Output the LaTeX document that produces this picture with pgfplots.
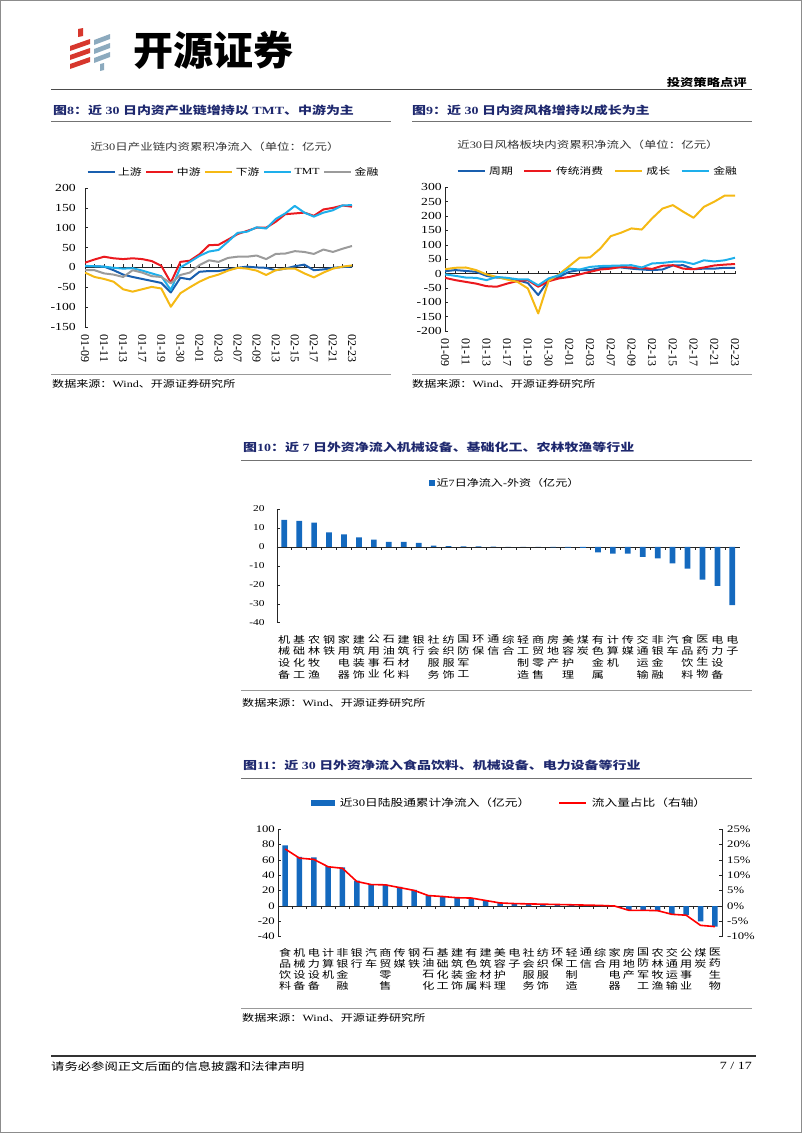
\documentclass[border=0pt]{standalone}
\usepackage{fontspec}
\usepackage{pgfplots}
\usepackage{pgfplotstable}
\pgfplotsset{compat=1.18}
\setmainfont[FakeStretch=1.27]{Liberation Serif}
\newfontfamily\latinplain{Liberation Serif}
\newfontfamily\cjkA[FakeStretch=1.27]{Noto Sans CJK SC}
\newfontfamily\cjkN{Noto Sans CJK SC}
\let\cjkcur\cjkA
\def\latincur{\rmfamily}
\newXeTeXintercharclass\CJKcls
\makeatletter
\count@="2E80
\loop\XeTeXcharclass\count@=\CJKcls\advance\count@\@ne\ifnum\count@<"A000 \repeat
\count@="FF00
\loop\XeTeXcharclass\count@=\CJKcls\advance\count@\@ne\ifnum\count@<"FFF0 \repeat
\makeatother
\XeTeXinterchartoks 0 \CJKcls={\cjkcur}
\XeTeXinterchartoks 4095 \CJKcls={\cjkcur}
\XeTeXinterchartoks \CJKcls 0={\latincur}
\XeTeXinterchartoks \CJKcls 4095={\latincur}
\XeTeXinterchartokenstate=1

\definecolor{cUp}{RGB}{25,95,175}
\definecolor{cMid}{RGB}{235,25,30}
\definecolor{cDown}{RGB}{245,185,20}
\definecolor{cTMT}{RGB}{30,175,235}
\definecolor{cFin}{RGB}{155,155,155}
\definecolor{barblue}{RGB}{20,105,190}
\definecolor{titleblue}{RGB}{30,40,110}
\definecolor{logored}{RGB}{215,55,45}
\definecolor{logoblue}{RGB}{140,170,190}

\pgfplotstableread{
i up mid down tmt fin
0 3 12 -13 4 -7
1 3 20 -24 3 -7
2 2 27 -29 2 -15
3 -7 23 -36 -1 -18
4 -18 21 -55 -3 -24
5 -24 23 -61 -2 -7
6 -29 21 -55 -8 -13
7 -34 16 -49 -15 -22
8 -39 4 -53 -22 -24
9 -63 -38 -99 -57 -40
10 -26 14 -65 0 -19
11 -30 17 -50 14 -13
12 -11 33 -36 29 6
13 -9 56 -25 40 18
14 -9 57 -18 44 14
15 -5 70 -8 65 24
16 -1 84 -1 87 27
17 2 92 -3 90 27
18 0 100 -8 101 30
19 -1 100 -19 98 21
20 -7 115 -7 122 34
21 -3 134 -3 136 35
22 3 136 -3 155 41
23 7 138 -15 138 39
24 -7 130 -25 128 34
25 -5 146 -13 138 45
26 -1 150 -3 144 39
27 1 156 2 156 47
28 2 153 5 157 54
}\dataA

\pgfplotstableread{
i cyc cons grow fin
0 8 -15 15 -3
1 12 -23 20 -8
2 9 -29 21 -14
3 6 -35 12 -15
4 -8 -44 -3 -23
5 -14 -46 -12 -12
6 -17 -35 -21 -15
7 -23 -26 -29 -20
8 -33 -23 -52 -20
9 -75 -46 -139 -41
10 -23 -27 -26 -17
11 -12 -17 -3 -6
12 6 -12 26 17
13 12 -3 55 14
14 12 6 56 23
15 19 14 87 26
16 21 17 130 27
17 21 23 142 28
18 17 21 157 29
19 14 20 153 21
20 12 16 192 35
21 14 27 226 37
22 28 29 238 41
23 29 17 215 41
24 15 15 194 33
25 17 21 232 46
26 17 28 250 42
27 20 31 271 46
28 20 33 271 55
}\dataB

\pgfplotstableread{
i v
0 14.3
1 13.7
2 12.8
3 7.7
4 6.6
5 5.0
6 3.9
7 2.7
8 2.7
9 2.1
10 0.7
11 0.4
12 0.3
13 0.3
14 0.2
15 0
16 0
17 0
18 -0.3
19 -0.4
20 -0.5
21 -2.9
22 -3.5
23 -3.6
24 -5.2
25 -6.1
26 -8.7
27 -11.4
28 -17.2
29 -20.5
30 -30.7
}\dataC

\pgfplotstableread{
i v r
0 79 18.6
1 64 15.6
2 63.5 15.2
3 52 12.8
4 50.5 12.3
5 33 8.0
6 27.6 7.0
7 27.6 6.9
8 25 6.0
9 21 5.1
10 14 3.4
11 13 3.1
12 11 2.7
13 10 2.6
14 7.5 1.8
15 4.5 1.0
16 3.5 0.8
17 3 0.7
18 2.5 0.6
19 2 0.5
20 1.5 0.4
21 1 0.3
22 0.5 0.2
23 -0.5 0.0
24 -5.5 -1.4
25 -6 -1.4
26 -6.5 -1.5
27 -10.5 -2.7
28 -12 -3.0
29 -20 -6.3
30 -27 -6.7
}\dataD

\pgfplotsset{
  myaxis/.style={
    scale only axis, anchor=south west,
    /pgf/number format/assume math mode=true,
    axis line style={black!85,line width=0.6pt},
    tick style={black!85,line width=0.5pt},
    major tick length=3pt, minor tick length=3pt,
    tick align=inside,
    axis y line*=left, axis x line*=middle,
    hide obscured x ticks=false,
    yticklabel style={inner sep=0pt,anchor=east},
    legend cell align=left,
  },
}

\begin{document}
\begin{tikzpicture}
\path[use as bounding box] (0pt,0pt) rectangle (802pt,-1133pt);
\begin{scope}[x=1pt,y=-1pt]
  \draw[black!45,line width=1.2pt] (0.6,0.6) rectangle (801.4,1132.4);
  % logo
  \fill[logored] (78,29) -- (83,28) -- (83,36) -- (78,37) -- cycle;
  \fill[logored] (70,46) -- (90,39) -- (90,44) -- (70,51) -- cycle;
  \fill[logored] (70,55) -- (90,48) -- (90,53) -- (70,60) -- cycle;
  \fill[logored] (70,64) -- (90,57) -- (90,62) -- (70,69) -- cycle;
  \fill[logoblue] (94,40) -- (110,34) -- (110,39) -- (94,45) -- cycle;
  \fill[logoblue] (94,49) -- (110,43) -- (110,48) -- (94,54) -- cycle;
  \fill[logoblue] (94,58) -- (110,52) -- (110,57) -- (94,63) -- cycle;
  \fill[logoblue] (100,64) -- (104,63) -- (104,70) -- (100,71) -- cycle;
  \node[anchor=west,inner sep=0pt,font=\let\cjkcur\cjkN\fontsize{40}{40}\selectfont\bfseries] at (133,50) {开源证券};
  \node[anchor=east,inner sep=0pt,font=\fontsize{10.5}{12}\selectfont\bfseries] at (747,82) {投资策略点评};
  \draw[black!70,line width=1.6pt] (51,89.5) -- (752,89.5);
  % titles 8 and 9
  \node[anchor=west,inner sep=0pt,text=titleblue,font=\fontsize{11}{12}\selectfont\bfseries] at (53,110) {图8：近 30 日内资产业链增持以 TMT、中游为主};
  \node[anchor=west,inner sep=0pt,text=titleblue,font=\fontsize{11}{12}\selectfont\bfseries] at (412,110) {图9：近 30 日内资风格增持以成长为主};
  \draw[black!55,line width=0.8pt] (51,121) -- (391,121);
  \draw[black!55,line width=0.8pt] (412,121) -- (752,121);
  \node[inner sep=0pt,text=black!80,font=\fontsize{9.8}{11}\selectfont] at (215,147) {近30日产业链内资累积净流入（单位：亿元）};
  \node[inner sep=0pt,text=black!80,font=\fontsize{9.8}{11}\selectfont] at (588,145) {近30日风格板块内资累积净流入（单位：亿元）};
  \draw[black!40,line width=0.6pt] (51,374) -- (391,374);
  \draw[black!40,line width=0.6pt] (412,374) -- (752,374);
  \node[anchor=west,inner sep=0pt,font=\fontsize{9.5}{11}\selectfont] at (52,384) {数据来源：Wind、开源证券研究所};
  \node[anchor=west,inner sep=0pt,font=\fontsize{9.5}{11}\selectfont] at (412,384) {数据来源：Wind、开源证券研究所};
  % chart 10 frame
  \node[anchor=west,inner sep=0pt,text=titleblue,font=\fontsize{11}{12}\selectfont\bfseries] at (243,447) {图10：近 7 日外资净流入机械设备、基础化工、农林牧渔等行业};
  \draw[black!55,line width=0.8pt] (241,460) -- (752,460);
  \draw[black!40,line width=0.6pt] (241,690.5) -- (752,690.5);
  \node[anchor=west,inner sep=0pt,font=\fontsize{9.5}{11}\selectfont] at (242,703) {数据来源：Wind、开源证券研究所};
  % chart 11 frame
  \node[anchor=west,inner sep=0pt,text=titleblue,font=\fontsize{11}{12}\selectfont\bfseries] at (243,765) {图11：近 30 日外资净流入食品饮料、机械设备、电力设备等行业};
  \draw[black!55,line width=0.8pt] (241,778.5) -- (752,778.5);
  \draw[black!40,line width=0.6pt] (241,1008) -- (752,1008);
  \node[anchor=west,inner sep=0pt,font=\fontsize{9.5}{11}\selectfont] at (242,1018) {数据来源：Wind、开源证券研究所};
  % footer
  \draw[black!80,line width=1.4pt] (51,1056) -- (756,1056);
  \node[anchor=west,inner sep=0pt,font=\fontsize{10.5}{12}\selectfont] at (51,1066) {请务必参阅正文后面的信息披露和法律声明};
  \node[anchor=east,inner sep=0pt,font=\fontsize{11}{12}\selectfont] at (752,1066) {7 / 17};
\end{scope}

% ---------- Chart 8 ----------
\begin{axis}[myaxis, at={(85pt,-327pt)}, width=267pt, height=139pt,
  xmin=0, xmax=28, ymin=-150, ymax=200, ytick={-150,-100,...,200},
  xtick={0,...,28},
  xticklabels={01-09,,01-11,,01-13,,01-17,,01-19,,01-30,,02-01,,02-03,,02-07,,02-09,,02-13,,02-15,,02-17,,02-21,,02-23},
  xticklabel style={rotate=-90,anchor=west,inner sep=0pt,font=\latinplain\fontsize{12}{12}\selectfont},
  xticklabel shift=67pt,
  yticklabel style={font=\fontsize{10.8}{12}\selectfont},
  yticklabel shift=9pt,
  legend style={at={(0.553,1.115)},anchor=center,draw=none,fill=none,legend columns=-1,
    nodes={inner sep=0.5pt},
    font=\fontsize{9.3}{10}\selectfont,
    /tikz/every odd column/.append style={column sep=2pt},
    /tikz/every even column/.append style={column sep=3pt}},
  legend image code/.code={\draw[#1,line width=2.2pt] (0pt,0pt) -- (27pt,0pt);},
  every axis plot/.append style={line width=2pt,line join=round},
]
\addplot[cUp] table[x=i,y=up]{\dataA}; \addlegendentry{上游}
\addplot[cMid] table[x=i,y=mid]{\dataA}; \addlegendentry{中游}
\addplot[cDown] table[x=i,y=down]{\dataA}; \addlegendentry{下游}
\addplot[cTMT] table[x=i,y=tmt]{\dataA}; \addlegendentry{TMT}
\addplot[cFin] table[x=i,y=fin]{\dataA}; \addlegendentry{金融}
\end{axis}

% ---------- Chart 9 ----------
\begin{axis}[myaxis, at={(445pt,-331pt)}, width=290pt, height=143.7pt,
  xmin=0, xmax=28, ymin=-200, ymax=300, ytick={-200,-150,...,300},
  xtick={0,...,28},
  xticklabels={01-09,,01-11,,01-13,,01-17,,01-19,,01-30,,02-01,,02-03,,02-07,,02-09,,02-13,,02-15,,02-17,,02-21,,02-23},
  xticklabel style={rotate=-90,anchor=west,inner sep=0pt,font=\latinplain\fontsize{12}{12}\selectfont},
  xticklabel shift=64.7pt,
  yticklabel style={font=\fontsize{10.8}{12}\selectfont},
  yticklabel shift=3pt,
  legend style={at={(0.524,1.113)},anchor=center,draw=none,fill=none,legend columns=-1,
    nodes={inner sep=0.5pt},
    font=\fontsize{9.3}{10}\selectfont,
    /tikz/every odd column/.append style={column sep=3pt},
    /tikz/every even column/.append style={column sep=10pt}},
  legend image code/.code={\draw[#1,line width=2.2pt] (0pt,0pt) -- (27pt,0pt);},
  every axis plot/.append style={line width=2pt,line join=round},
]
\addplot[cUp] table[x=i,y=cyc]{\dataB}; \addlegendentry{周期}
\addplot[cMid] table[x=i,y=cons]{\dataB}; \addlegendentry{传统消费}
\addplot[cDown] table[x=i,y=grow]{\dataB}; \addlegendentry{成长}
\addplot[cTMT] table[x=i,y=fin]{\dataB}; \addlegendentry{金融}
\end{axis}

% ---------- Chart 10 ----------
\begin{axis}[myaxis, at={(276.8pt,-622.7pt)}, width=463pt, height=113.7pt,
  xmin=-0.5, xmax=30.5, ymin=-40, ymax=20, ytick={-40,-30,...,20},
  ybar, bar width=5.7pt,
  xtick={0,...,30}, major x tick style={draw=none}, minor xtick={0.5,1.5,...,29.5},
  xticklabels={{机\\械\\设\\备},{基\\础\\化\\工},{农\\林\\牧\\渔},{钢\\铁},{家\\用\\电\\器},{建\\筑\\装\\饰},{公\\用\\事\\业},{石\\油\\石\\化},{建\\筑\\材\\料},{银\\行},{社\\会\\服\\务},{纺\\织\\服\\饰},{国\\防\\军\\工},{环\\保},{通\\信},{综\\合},{轻\\工\\制\\造},{商\\贸\\零\\售},{房\\地\\产},{美\\容\\护\\理},{煤\\炭},{有\\色\\金\\属},{计\\算\\机},{传\\媒},{交\\通\\运\\输},{非\\银\\金\\融},{汽\\车},{食\\品\\饮\\料},{医\\药\\生\\物},{电\\力\\设\\备},{电\\子}},
  xticklabel style={align=center,anchor=north,inner sep=0pt,font=\fontsize{9.5}{11.7}\selectfont},
  xticklabel shift=85pt,
  yticklabel style={font=\fontsize{9}{10}\selectfont},
  yticklabel shift=12pt,
  legend style={at={(0.493,1.229)},anchor=center,draw=none,fill=none,font=\fontsize{9.5}{10}\selectfont},
  legend image code/.code={\fill[barblue] (0pt,-3pt) rectangle (6pt,3pt);},
]
\addplot[fill=barblue,draw=none] table[x=i,y=v]{\dataC};
\addlegendentry{近7日净流入-外资（亿元）}
\end{axis}

% ---------- Chart 11 ----------
\begin{axis}[myaxis, at={(278pt,-936.7pt)}, width=444pt, height=107.4pt,
  xmin=-0.5, xmax=30.5, ymin=-40, ymax=100, ytick={-40,-20,...,100},
  ybar, bar width=5.5pt,
  xtick={0,...,30}, major x tick style={draw=none}, minor xtick={0.5,1.5,...,29.5},
  xticklabels={{食\\品\\饮\\料},{机\\械\\设\\备},{电\\力\\设\\备},{计\\算\\机},{非\\银\\金\\融},{银\\行},{汽\\车},{商\\贸\\零\\售},{传\\媒},{钢\\铁},{石\\油\\石\\化},{基\\础\\化\\工},{建\\筑\\装\\饰},{有\\色\\金\\属},{建\\筑\\材\\料},{美\\容\\护\\理},{电\\子},{社\\会\\服\\务},{纺\\织\\服\\饰},{环\\保},{轻\\工\\制\\造},{通\\信},{综\\合},{家\\用\\电\\器},{房\\地\\产},{国\\防\\军\\工},{农\\林\\牧\\渔},{交\\通\\运\\输},{公\\用\\事\\业},{煤\\炭},{医\\药\\生\\物}},
  xticklabel style={align=center,anchor=north,inner sep=0pt,font=\fontsize{9.5}{11.2}\selectfont},
  xticklabel shift=39pt,
  yticklabel style={font=\fontsize{10}{10}\selectfont},
  yticklabel shift=3pt,
]
\addplot[fill=barblue,draw=none] table[x=i,y=v]{\dataD};
\end{axis}
\begin{axis}[scale only axis, anchor=south west, at={(278pt,-936.7pt)}, width=444pt, height=107.4pt,
  /pgf/number format/assume math mode=true,
  xmin=-0.5, xmax=30.5, ymin=-10, ymax=25, ytick={-10,-5,...,25},
  axis y line*=right, axis x line=none, xtick=\empty,
  axis line style={black!85,line width=0.6pt},
  tick style={black!85,line width=0.5pt}, major tick length=3pt, tick align=inside,
  yticklabel={\pgfmathprintnumber{\tick}\%},
  yticklabel style={font=\fontsize{10}{10}\selectfont,inner sep=0pt,anchor=west},
  yticklabel shift=5pt,
  legend style={at={(0.522,1.245)},anchor=center,draw=none,fill=none,legend columns=-1,
    font=\fontsize{10}{10}\selectfont,
    /tikz/every odd column/.append style={column sep=3pt},
    /tikz/every even column/.append style={column sep=26pt}},
  legend image code/.code={\draw[#1] (0pt,0pt) -- (27pt,0pt);},
]
\addlegendimage{legend image code/.code={\fill[barblue] (0pt,-2.5pt) rectangle (23pt,2.5pt);}}
\addlegendentry{近30日陆股通累计净流入（亿元）}
\addplot[color=red,line width=1.6pt,line join=round] table[x=i,y=r]{\dataD};
\addlegendentry{流入量占比（右轴）}
\end{axis}
\end{tikzpicture}
\end{document}
